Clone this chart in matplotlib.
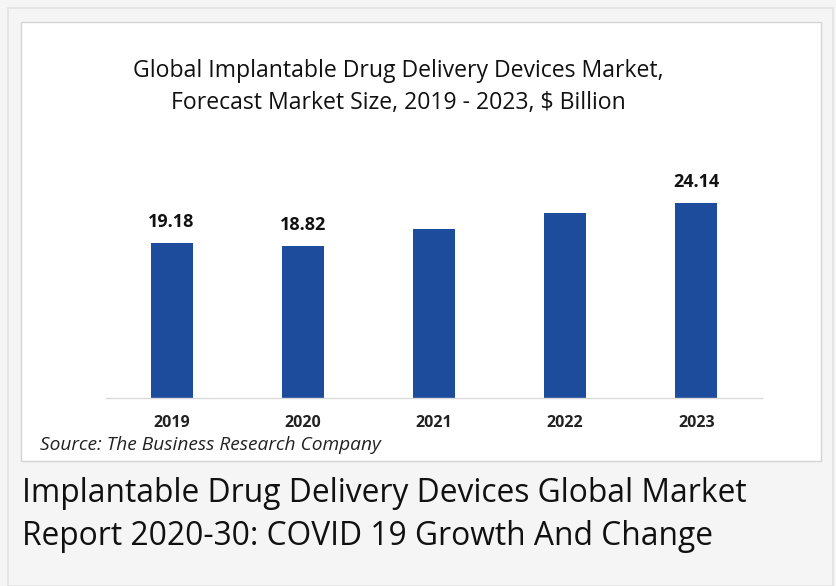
import matplotlib
matplotlib.use("Agg")
import matplotlib.pyplot as plt
from matplotlib.patches import Rectangle

# Data
years = ["2019", "2020", "2021", "2022", "2023"]
market_size = [19.18, 18.82, 21.0, 22.9, 24.14]
shown_labels = {"2019": "19.18", "2020": "18.82", "2023": "24.14"}

title = "Global Implantable Drug Delivery Devices Market,\nForecast Market Size, 2019 - 2023, $ Billion"
source = "Source: The Business Research Company"
caption = "Implantable Drug Delivery Devices Global Market\nReport 2020-30: COVID 19 Growth And Change"

W, H = 836, 586
fig = plt.figure(figsize=(W / 100, H / 100), dpi=100, facecolor="#f5f5f5")

# page frame and white chart box
fig.patches.append(Rectangle((8 / W, 0), 825 / W, 1 - 8 / H, transform=fig.transFigure,
                             facecolor="#f5f5f5", edgecolor="#e2e2e2", lw=1.2, zorder=-2))
fig.patches.append(Rectangle((21 / W, 1 - 461 / H), 800 / W, 439 / H, transform=fig.transFigure,
                             facecolor="white", edgecolor="#d4d4d4", lw=1, zorder=-1))

ax = fig.add_axes([106 / W, 1 - 398 / H, 656 / W, 242 / H])
ax.set_zorder(2)
ax.set_facecolor("none")
x = range(len(years))
bars = ax.bar(x, market_size, width=0.32, color="#1e4c9c", zorder=2)
ax.set_xlim(-0.5, len(years) - 0.5)
ax.set_ylim(0, 30)

for i, (yr, v) in enumerate(zip(years, market_size)):
    if yr in shown_labels:
        ax.annotate(shown_labels[yr], (i, v), xytext=(0, 12), textcoords="offset pixels",
                    ha="center", va="bottom", fontsize=13, fontweight="bold",
                    family="Open Sans", color="#111111")

ax.set_xticks(list(x))
ax.set_xticklabels(years, fontsize=11.5, fontweight="bold", family="Open Sans", color="#222222")
ax.tick_params(axis="x", length=0, pad=12)
ax.set_yticks([])
for s in ["left", "right", "top"]:
    ax.spines[s].set_visible(False)
ax.spines["bottom"].set_color("#d9d9d9")
ax.spines["bottom"].set_linewidth(1)

fig.text(398 / W, 1 - 87 / H, title, ha="center", va="center", fontsize=16.6,
         family="Open Sans", color="#111111", linespacing=1.4)
fig.text(40 / W, 1 - 445 / H, source, ha="left", va="center", fontsize=13.8,
         style="italic", family="Open Sans", color="#222222")
fig.text(22 / W, 1 - 515 / H, caption, ha="left", va="center", fontsize=22.9,
         family="Open Sans", color="#111111", linespacing=1.42)

fig.savefig("out.png", dpi=100, facecolor=fig.get_facecolor())
